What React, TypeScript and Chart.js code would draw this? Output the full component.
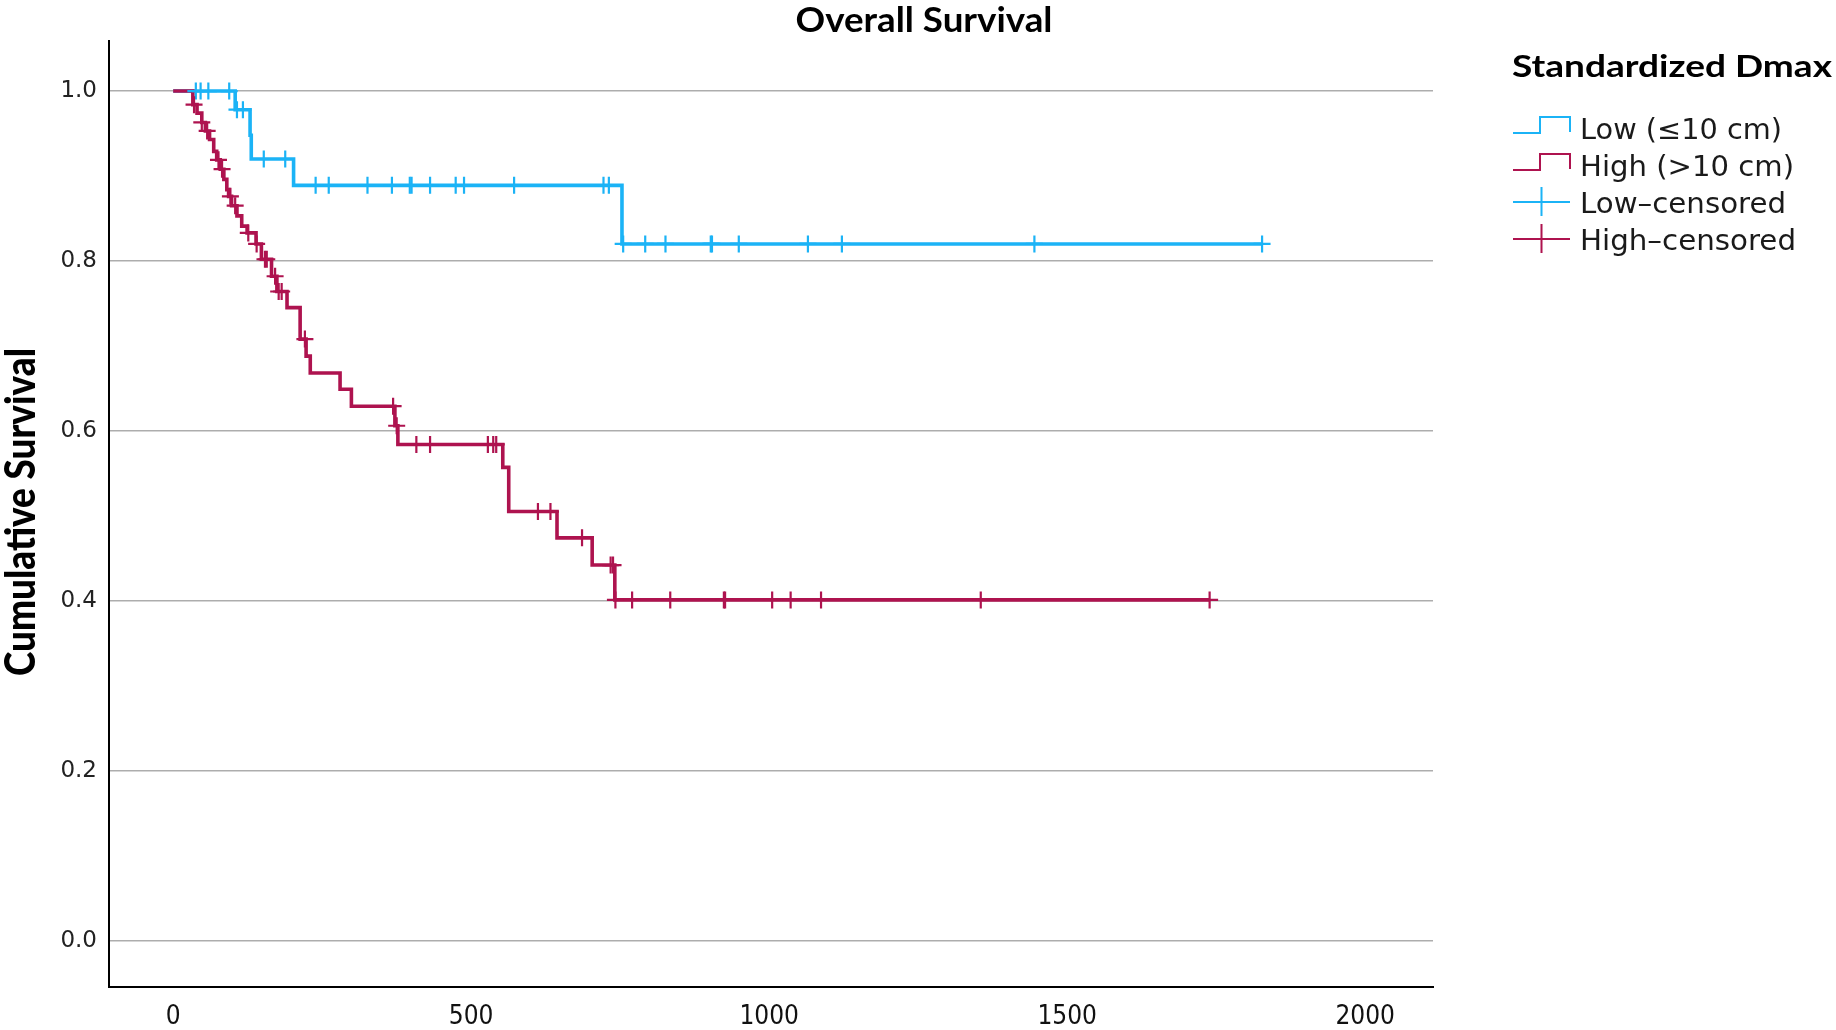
import React, { useEffect, useRef } from 'react';
import { Chart, registerables } from 'chart.js';

Chart.register(...registerables);

// ---- Data ----
const lowTimes = [0, 104, 129, 131, 202, 753, 1827];
const lowSurv = [1.0, 0.978, 0.948, 0.920, 0.889, 0.820, 0.820];

const highTimes = [0, 33, 40, 48, 54, 61, 68, 73, 79, 85, 90, 93, 98, 107, 115, 124, 139, 148, 165, 174, 191, 213, 223, 230, 280, 299, 372, 377, 553, 563, 644, 703, 741, 1739];
const highSurv = [1.0, 0.984, 0.974, 0.963, 0.953, 0.943, 0.929, 0.919, 0.908, 0.896, 0.884, 0.876, 0.865, 0.853, 0.841, 0.833, 0.820, 0.802, 0.782, 0.764, 0.745, 0.708, 0.688, 0.668, 0.649, 0.629, 0.606, 0.584, 0.557, 0.505, 0.474, 0.442, 0.401, 0.401];

const lowCensored = [38, 46, 59, 94, 107, 117, 152, 188, 239, 261, 326, 367, 397, 400, 431, 474, 488, 572, 722, 731, 755, 792, 826, 902, 904, 949, 1065, 1122, 1445, 1827];
const highCensored = [35, 48, 57, 76, 82, 96, 104, 126, 140, 154, 157, 171, 177, 182, 221, 369, 375, 408, 431, 528, 537, 542, 612, 633, 686, 734, 738, 742, 770, 834, 924, 926, 1005, 1036, 1087, 1355, 1739];

const xTickValues = [0, 500, 1000, 1500, 2000];
const yTickValues = [0, 0.2, 0.4, 0.6, 0.8, 1.0];

const chartTitle = 'Overall Survival';
const yAxisTitle = 'Cumulative Survival';
const legendTitle = 'Standardized Dmax';
const legendLabels = ['Low (\u226410 cm)', 'High (>10 cm)', 'Low\u2013censored', 'High\u2013censored'];

const LOW_COLOR = '#1BB3F6';
const HIGH_COLOR = '#AE134F';

function survivalAt(times: number[], surv: number[], t: number): number {
  let s = surv[0];
  for (let i = 0; i < times.length; i++) {
    if (times[i] <= t) s = surv[i];
  }
  return s;
}

function curvePoints(times: number[], surv: number[]) {
  return times.map((t, i) => ({ x: t, y: surv[i] }));
}

function censorPoints(cens: number[], times: number[], surv: number[]) {
  return cens.map((t) => ({ x: t, y: survivalAt(times, surv, t) }));
}

function drawFitted(
  ctx: CanvasRenderingContext2D,
  text: string,
  x: number,
  y: number,
  targetWidth: number,
  font: string,
  align: CanvasTextAlign,
  color: string
) {
  ctx.save();
  ctx.font = font;
  ctx.fillStyle = color;
  ctx.textAlign = align;
  ctx.textBaseline = 'alphabetic';
  const w = ctx.measureText(text).width;
  const s = w > 0 ? targetWidth / w : 1;
  ctx.translate(x, y);
  ctx.scale(s, 1);
  ctx.fillText(text, 0, 0);
  ctx.restore();
}

const textPlugin = {
  id: 'kmTexts',
  afterDraw(chart: any) {
    const ctx: CanvasRenderingContext2D = chart.ctx;
    // Title
    drawFitted(ctx, chartTitle, 924, 31.5, 257, 'bold 34px Lato', 'center', '#000');
    // Y axis title (rotated)
    ctx.save();
    ctx.translate(35, 512);
    ctx.rotate(-Math.PI / 2);
    drawFitted(ctx, yAxisTitle, 0, 0, 328, '900 42px Lato', 'center', '#000');
    ctx.restore();
    // Legend title
    drawFitted(ctx, legendTitle, 1512, 76.5, 320, 'bold 30px Lato', 'left', '#000');
    // Legend items
    const centers = [128, 165, 202, 239];
    const widths = [202, 214, 206, 216];
    const colors = [LOW_COLOR, HIGH_COLOR, LOW_COLOR, HIGH_COLOR];
    ctx.save();
    ctx.lineWidth = 2;
    for (let i = 0; i < 4; i++) {
      const c = centers[i];
      ctx.strokeStyle = colors[i];
      ctx.beginPath();
      if (i < 2) {
        ctx.moveTo(1513, c + 5);
        ctx.lineTo(1540, c + 5);
        ctx.lineTo(1540, c - 11);
        ctx.lineTo(1570, c - 11);
        ctx.lineTo(1570, c + 4);
      } else {
        ctx.moveTo(1513, c);
        ctx.lineTo(1570, c);
        ctx.moveTo(1541.5, c - 15);
        ctx.lineTo(1541.5, c + 14);
      }
      ctx.stroke();
      drawFitted(ctx, legendLabels[i], 1580, c + 10.5, widths[i], '28px "DejaVu Sans"', 'left', '#1a1a1a');
    }
    ctx.restore();
  },
};

export default function App() {
  const canvasRef = useRef<HTMLCanvasElement | null>(null);

  useEffect(() => {
    const canvas = canvasRef.current;
    if (!canvas) return;
    const chart = new Chart(canvas, {
      type: 'scatter',
      data: {
        datasets: [
          {
            label: legendLabels[3],
            data: censorPoints(highCensored, highTimes, highSurv),
            showLine: false,
            pointStyle: 'cross',
            pointRadius: 8.5,
            pointBorderWidth: 2.2,
            pointBorderColor: HIGH_COLOR,
            borderColor: HIGH_COLOR,
            backgroundColor: HIGH_COLOR,
          },
          {
            label: legendLabels[2],
            data: censorPoints(lowCensored, lowTimes, lowSurv),
            showLine: false,
            pointStyle: 'cross',
            pointRadius: 8.5,
            pointBorderWidth: 2.2,
            pointBorderColor: LOW_COLOR,
            borderColor: LOW_COLOR,
            backgroundColor: LOW_COLOR,
          },
          {
            label: legendLabels[1],
            data: curvePoints(highTimes, highSurv),
            showLine: true,
            stepped: true,
            pointRadius: 0,
            borderColor: HIGH_COLOR,
            borderWidth: 3.6,
            fill: false,
          },
          {
            label: legendLabels[0],
            data: curvePoints(lowTimes, lowSurv),
            showLine: true,
            stepped: true,
            pointRadius: 0,
            borderColor: LOW_COLOR,
            borderWidth: 3.6,
            fill: false,
          },
        ],
      },
      options: {
        responsive: false,
        animation: false,
        devicePixelRatio: 1,
        layout: { padding: { left: 0, top: 41, right: 403, bottom: 0 } },
        plugins: {
          legend: { display: false },
          tooltip: { enabled: false },
          title: { display: false },
        },
        scales: {
          x: {
            type: 'linear',
            min: -107.7,
            max: 2113.8,
            afterBuildTicks: (s: any) => {
              s.ticks = xTickValues.map((v) => ({ value: v }));
            },
            afterFit: (s: any) => {
              s.height = 43;
            },
            grid: { color: 'rgba(0,0,0,0)', drawTicks: false },
            border: { display: true, color: '#000', width: 2 },
            ticks: {
              autoSkip: false,
              maxRotation: 0,
              padding: 15,
              color: '#111',
              font: { family: '"DejaVu Sans Condensed", "Liberation Sans Narrow", "DejaVu Sans"', size: 26 },
              callback: (v: any) => String(v),
            },
          },
          y: {
            type: 'linear',
            min: -0.0547,
            max: 1.0589,
            afterBuildTicks: (s: any) => {
              s.ticks = yTickValues.map((v) => ({ value: v }));
            },
            afterFit: (s: any) => {
              s.width = 109;
            },
            grid: { color: '#ADADAD', lineWidth: 1.5, drawTicks: false },
            border: { display: true, color: '#000', width: 2 },
            ticks: {
              padding: 12,
              color: '#222',
              font: { family: '"DejaVu Sans"', size: 23 },
              callback: (v: any) => Number(v).toFixed(1),
            },
          },
        },
      },
      plugins: [textPlugin],
    } as any);
    return () => {
      chart.destroy();
    };
  }, []);

  return (
    <div style={{ position: 'fixed', left: 0, top: 0, width: 1836, height: 1030, background: '#fff' }}>
      <canvas ref={canvasRef} width={1836} height={1030} style={{ display: 'block' }} />
    </div>
  );
}
